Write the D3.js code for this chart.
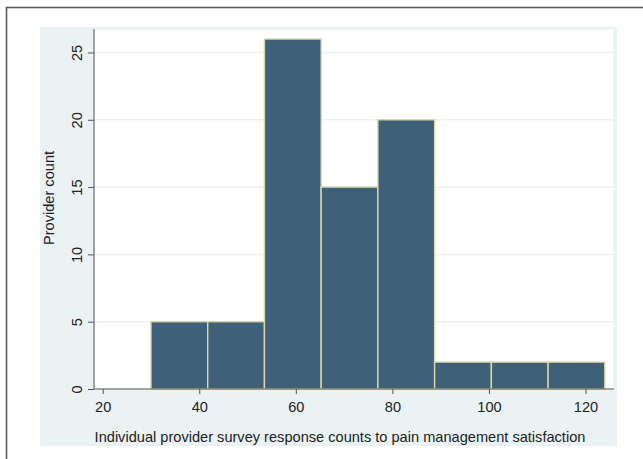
<!DOCTYPE html>
<html>
<head>
<meta charset="utf-8">
<script src="https://cdn.jsdelivr.net/npm/d3@7"></script>
<style>
  html, body { margin: 0; padding: 0; background: #ffffff; }
  svg { display: block; font-family: "Liberation Sans", Arial, sans-serif; }
</style>
</head>
<body>
<svg id="chart" width="643" height="459"></svg>
<script>
// Histogram bins: lower edge, upper edge, provider count
const binStarts = [30, 41.75, 53.5, 65.25, 77, 88.75, 100.5, 112.25];
const binEnds   = [41.75, 53.5, 65.25, 77, 88.75, 100.5, 112.25, 124];
const counts    = [5, 5, 26, 15, 20, 2, 2, 2];

const xTicks = [20, 40, 60, 80, 100, 120];
const yTicks = [0, 5, 10, 15, 20, 25];

const xTitle = "Individual provider survey response counts to pain management satisfaction";
const yTitle = "Provider count";

const svg = d3.select("#chart");
const fontSize = 14.6;

// outer frame
svg.append("rect")
  .attr("x", 6.5).attr("y", 7.5)
  .attr("width", 700).attr("height", 500)
  .attr("fill", "#ffffff")
  .attr("stroke", "#5a5a5a").attr("stroke-width", 1.6);

// graph region
svg.append("rect")
  .attr("x", 40).attr("y", 27)
  .attr("width", 577).attr("height", 419)
  .attr("fill", "#eaf2f3");

// plot region
const plot = { left: 94, right: 614, top: 29, bottom: 389 };
svg.append("rect")
  .attr("x", plot.left).attr("y", plot.top)
  .attr("width", plot.right - plot.left).attr("height", plot.bottom - plot.top)
  .attr("fill", "#ffffff")
  .attr("stroke", "#eaf2f3").attr("stroke-width", 1.5);

const x = d3.scaleLinear().domain([20, 120]).range([102.7, 585.5]);
const y = d3.scaleLinear().domain([0, 26]).range([plot.bottom, 39]);

// horizontal grid lines
svg.append("g")
  .selectAll("line")
  .data(yTicks.filter(d => d > 0))
  .join("line")
  .attr("x1", plot.left).attr("x2", plot.right)
  .attr("y1", d => y(d)).attr("y2", d => y(d))
  .attr("stroke", "#eaf2f3").attr("stroke-width", 1.5);

// bars
const bins = binStarts.map((s, i) => ({ x0: s, x1: binEnds[i], n: counts[i] }));
svg.append("g")
  .selectAll("rect")
  .data(bins)
  .join("rect")
  .attr("x", d => x(d.x0))
  .attr("y", d => y(d.n))
  .attr("width", d => x(d.x1) - x(d.x0))
  .attr("height", d => y(0) - y(d.n))
  .attr("fill", "#3e6079")
  .attr("stroke", "#ddd6a6").attr("stroke-width", 1.4);

// x axis
const xAxis = svg.append("g")
  .attr("transform", `translate(0,${plot.bottom})`)
  .call(d3.axisBottom(x).tickValues(xTicks).tickSize(5).tickFormat(d3.format("d")));
xAxis.select(".domain").attr("d", `M${plot.left},0H${plot.right}`).attr("stroke", "#555");
xAxis.selectAll(".tick line").attr("stroke", "#555");
xAxis.selectAll("text")
  .attr("y", 23).attr("dy", null)
  .attr("font-size", fontSize).attr("fill", "#222")
  .attr("font-family", "Liberation Sans, Arial, sans-serif");

// y axis
const yAxis = svg.append("g")
  .attr("transform", `translate(${plot.left},0)`)
  .call(d3.axisLeft(y).tickValues(yTicks).tickSize(6).tickFormat(d3.format("d")));
yAxis.select(".domain").attr("d", `M0,${plot.top}V${plot.bottom}`).attr("stroke", "#555");
yAxis.selectAll(".tick line").attr("stroke", "#555");
yAxis.selectAll("text")
  .attr("x", null).attr("dy", null)
  .attr("transform", "translate(-12.5,0) rotate(-90)")
  .attr("text-anchor", "middle")
  .attr("font-size", fontSize).attr("fill", "#222")
  .attr("font-family", "Liberation Sans, Arial, sans-serif");

// axis titles
svg.append("text")
  .attr("x", 340).attr("y", 442)
  .attr("text-anchor", "middle")
  .attr("font-size", fontSize).attr("fill", "#222")
  .text(xTitle);

svg.append("text")
  .attr("transform", "translate(54,198) rotate(-90)")
  .attr("text-anchor", "middle")
  .attr("font-size", fontSize).attr("fill", "#222")
  .text(yTitle);
</script>
</body>
</html>
